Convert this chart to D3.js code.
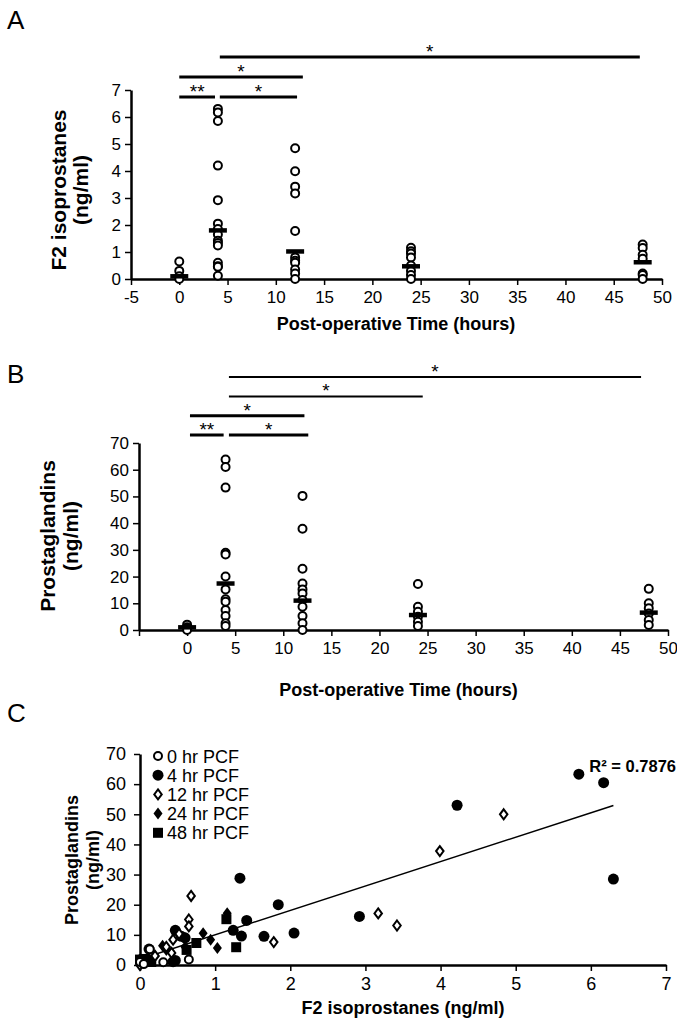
<!DOCTYPE html>
<html><head><meta charset="utf-8">
<script src="https://cdn.jsdelivr.net/npm/d3@7"></script>
<style>
body{margin:0;background:#fff;}
svg text{font-family:"Liberation Sans",Arial,sans-serif;}
</style></head>
<body><svg id="c" width="677" height="1027"></svg>
<script>
// ---------- DATA ----------
const times = [0, 4, 12, 24, 48];
const xTicksA = [-5,0,5,10,15,20,25,30,35,40,45,50];
const xTicksB = [-5,0,5,10,15,20,25,30,35,40,45,50];
const xTickLabelsB = ["",'0','5','10','15','20','25','30','35','40','45','50'];
const yTicksA = [0,1,2,3,4,5,6,7];
const yTicksB = [0,10,20,30,40,50,60,70];
const xTicksC = [0,1,2,3,4,5,6,7];
const yTicksC = [0,10,20,30,40,50,60,70];

const f2Values = [
  [0.65, 0.3, 0.1, 0.0],
  [6.3, 6.17, 5.85, 4.2, 2.92, 2.05, 1.85, 1.65, 1.42, 1.33, 1.24, 0.6, 0.47, 0.45, 0.12],
  [4.84, 3.99, 3.42, 3.17, 1.78, 0.8, 0.68, 0.6, 0.35, 0.2, 0.0],
  [1.16, 1.03, 0.94, 0.8, 0.5, 0.3, 0.15, 0.0],
  [1.28, 1.15, 0.9, 0.75, 0.2, 0.15, 0.0]
];
const f2Means = [0.1, 1.8, 1.02, 0.47, 0.62];

const pgValues = [
  [2, 1, 0.5, 0],
  [63.8, 61, 53.3, 28.9, 28.3, 20, 15.2, 11.5, 10.6, 7.5, 5.2, 2.5, 1.5],
  [50.2, 37.9, 22.9, 17.4, 15.2, 13.7, 11.2, 8.7, 5.2, 2.5, 0],
  [17.2, 8.7, 6.8, 5, 3.1, 1.5],
  [15.4, 10, 8.1, 6.2, 3.7, 1.9]
];
const pgMeans = [1, 17.4, 11, 5.6, 6.5];

// significance brackets: [from, to, label, level]
const bracketsA = [[0, 3.7, "**", 0], [4.2, 12.2, "*", 0], [0, 12.8, "*", 1], [4.2, 47.7, "*", 2]];
const bracketsB = [[0.3, 3.8, "**", 0], [4.35, 12.6, "*", 0], [0.3, 12.2, "*", 1], [4.35, 24.5, "*", 2], [4.35, 47.2, "*", 3]];

// panel C: [F2, PG] pairs per group
const groupNames = ["0 hr PCF", "4 hr PCF", "12 hr PCF", "24 hr PCF", "48 hr PCF"];
const c0 = [[0.65,1.8],[0.31,0.9],[0.13,5.2],[0.0,1.0],[0.05,0.3]];
const c4 = [[5.84,63.3],[6.17,60.5],[4.22,53],[6.3,28.5],[1.33,28.8],[1.84,20],[2.92,16.1],[1.42,14.8],[1.24,11.5],[1.35,9.6],[1.65,9.5],[2.05,10.6],[0.47,11.5],[0.6,9],[0.47,1.5],[0.12,5.3],[0.55,9.5],[0.1,2],[0.44,1.1]];
const c12 = [[4.84,50],[3.99,37.8],[3.17,17.1],[3.42,13.1],[0.68,22.9],[0.65,15.1],[0.65,12.8],[1.78,7.6],[0,0],[0.44,8.4],[0.52,10.3],[0.42,4],[0.2,3],[0.35,6]];
const c24 = [[1.16,17.2],[1.03,5.6],[0.84,10.5],[0.94,8.4],[0.3,6.4],[0.35,5],[0.2,3],[0.02,1.5],[0.6,6]];
const c48 = [[1.15,15.2],[1.28,5.9],[0,1.8],[0.75,7.3],[0.05,2],[0.15,1],[0.62,5]];
const trend = {slope: 8.1, intercept: 1.9, xMin: 0, xMax: 6.3};
const r2Label = "R² = 0.7876";

// ---------- DRAW ----------
const svg = d3.select("#c");
svg.append("rect").attr("width",677).attr("height",1027).attr("fill","#fff");

function panelLetter(t, x, y){
  svg.append("text").attr("x",x).attr("y",y).attr("font-size",26).text(t);
}

function styleAxis(a){
  a.select(".domain").attr("stroke-width",2.5);
  a.selectAll(".tick line").attr("stroke-width",1.5);
  a.selectAll("text").attr("font-size",17).attr("font-family","Liberation Sans, Arial").attr("fill","#000");
}

function dotPanel(o){
  const g = svg.append("g");
  const x = d3.scaleLinear().domain([-5,50]).range([o.x0, o.x1]);
  const y = d3.scaleLinear().domain([0, o.yMax]).range([o.y0, o.y1]);
  const ya = g.append("g").attr("transform",`translate(${o.x0},0)`)
    .call(d3.axisLeft(y).tickValues(o.yTicks).tickFormat(d3.format("d")).tickSize(6).tickSizeOuter(0).tickPadding(4));
  styleAxis(ya);
  const xa = g.append("g").attr("transform",`translate(0,${o.y0})`)
    .call(d3.axisBottom(x).tickValues(o.xTicks).tickFormat((d,i)=>o.xLabels[i]).tickSize(6).tickSizeOuter(0).tickPadding(6));
  styleAxis(xa);
  o.values.forEach((vals,i)=>{
    g.selectAll(null).data(vals).enter().append("circle")
      .attr("cx", x(times[i])).attr("cy", d=>y(d)).attr("r",4)
      .attr("fill","#fff").attr("stroke","#000").attr("stroke-width",2);
  });
  g.selectAll(null).data(o.means).enter().append("line")
    .attr("x1",(d,i)=>x(times[i])-9).attr("x2",(d,i)=>x(times[i])+9)
    .attr("y1",d=>y(d)).attr("y2",d=>y(d)).attr("stroke","#000").attr("stroke-width",4.5);
  o.brackets.forEach(b=>{
    const yy = o.bracketBase - b[3]*o.bracketStep;
    const sw = (o.thin && b[3]>=2) ? 2 : 3;
    g.append("line").attr("x1",x(b[0])).attr("x2",x(b[1])).attr("y1",yy).attr("y2",yy)
      .attr("stroke","#000").attr("stroke-width",sw);
    g.append("text").attr("x",(x(b[0])+x(b[1]))/2).attr("y",yy+1).attr("text-anchor","middle")
      .attr("font-size",19).text(b[2]);
  });
  g.append("text").attr("x",(o.x0+o.x1)/2+ (o.xtOff||0)).attr("y",o.xtY).attr("text-anchor","middle")
    .attr("font-size",18).attr("font-weight","bold").text("Post-operative Time (hours)");
  const ty = g.append("text").attr("transform",`translate(${o.ytX},${o.ytC}) rotate(-90)`)
    .attr("text-anchor","middle").attr("font-size",o.ytSize).attr("font-weight","bold");
  ty.append("tspan").attr("x",0).attr("y",0).text(o.yTitle1);
  ty.append("tspan").attr("x",0).attr("y",o.ytGap).text(o.yTitle2);
}

panelLetter("A", 7, 29);
dotPanel({x0:131, x1:662, y0:279, y1:90, yMax:7, yTicks:yTicksA, xTicks:xTicksA, xLabels:xTicksA.map(String),
  values:f2Values, means:f2Means, brackets:bracketsA, bracketBase:97, bracketStep:20,
  xtY:330, ytX:66, ytC:190, ytGap:22, ytSize:21, yTitle1:"F2 isoprostanes", yTitle2:"(ng/ml)", xtOff:-0.5});

panelLetter("B", 7, 383);
dotPanel({x0:139, x1:668, y0:630, y1:443, yMax:70, yTicks:yTicksB, xTicks:xTicksB, xLabels:xTickLabelsB,
  values:pgValues, means:pgMeans, brackets:bracketsB, bracketBase:435, bracketStep:19.3, thin:true,
  xtY:696, ytX:55, ytC:536, ytGap:23, ytSize:21, yTitle1:"Prostaglandins", yTitle2:"(ng/ml)", xtOff:-5});

// ---------- Panel C ----------
panelLetter("C", 7, 722);
(function(){
  const g = svg.append("g");
  const x = d3.scaleLinear().domain([0,7]).range([140,666]);
  const y = d3.scaleLinear().domain([0,70]).range([965,754]);
  const ya = g.append("g").attr("transform","translate(140,0)")
    .call(d3.axisLeft(y).tickValues(yTicksC).tickFormat(d3.format("d")).tickSize(6).tickSizeOuter(0).tickPadding(8));
  styleAxis(ya);
  ya.selectAll("text").attr("font-size",18);
  const xa = g.append("g").attr("transform","translate(0,965)")
    .call(d3.axisBottom(x).tickValues(xTicksC).tickFormat(d3.format("d")).tickSize(6).tickSizeOuter(0).tickPadding(6));
  styleAxis(xa);
  xa.selectAll("text").attr("font-size",18);

  g.append("line").attr("x1",x(trend.xMin)).attr("y1",y(trend.intercept+trend.slope*trend.xMin))
    .attr("x2",x(trend.xMax)).attr("y2",y(trend.intercept+trend.slope*trend.xMax))
    .attr("stroke","#000").attr("stroke-width",1.5);

  const diamond = (s)=>`M0,${-s}L${s*0.75},0L0,${s}L${-s*0.75},0Z`;
  const shapes = [
    (sel)=>sel.append("circle").attr("r",4).attr("fill","#fff").attr("stroke","#000").attr("stroke-width",2),
    (sel)=>sel.append("circle").attr("r",5.5).attr("fill","#000"),
    (sel)=>sel.append("path").attr("d",diamond(5)).attr("fill","#fff").attr("stroke","#000").attr("stroke-width",2),
    (sel)=>sel.append("path").attr("d",diamond(6)).attr("fill","#000"),
    (sel)=>sel.append("rect").attr("x",-5).attr("y",-5).attr("width",10).attr("height",10).attr("fill","#000")
  ];
  const groups = [c0, c4, c12, c24, c48];
  const drawOrder = [1,3,4,2,0];
  drawOrder.forEach(gi=>{
    groups[gi].forEach(p=>{
      const s = g.append("g").attr("transform",`translate(${x(p[0])},${y(p[1])})`);
      shapes[gi](s);
    });
  });
  groupNames.forEach((n,i)=>{
    const ly = 756 + i*19.2;
    const s = g.append("g").attr("transform",`translate(158,${ly})`);
    shapes[i](s);
    g.append("text").attr("x",167).attr("y",ly+6.5).attr("font-size",18).text(n);
  });
  g.append("text").attr("x",676).attr("y",772).attr("text-anchor","end").attr("font-size",16.5)
    .attr("font-weight","bold").text(r2Label);
  g.append("text").attr("x",403).attr("y",1014).attr("text-anchor","middle").attr("font-size",18)
    .attr("font-weight","bold").text("F2 isoprostanes (ng/ml)");
  const ty = g.append("text").attr("transform","translate(78,860) rotate(-90)")
    .attr("text-anchor","middle").attr("font-size",18).attr("font-weight","bold");
  ty.append("tspan").attr("x",0).attr("y",0).text("Prostaglandins");
  ty.append("tspan").attr("x",0).attr("y",21).text("(ng/ml)");
})();
</script></body></html>
